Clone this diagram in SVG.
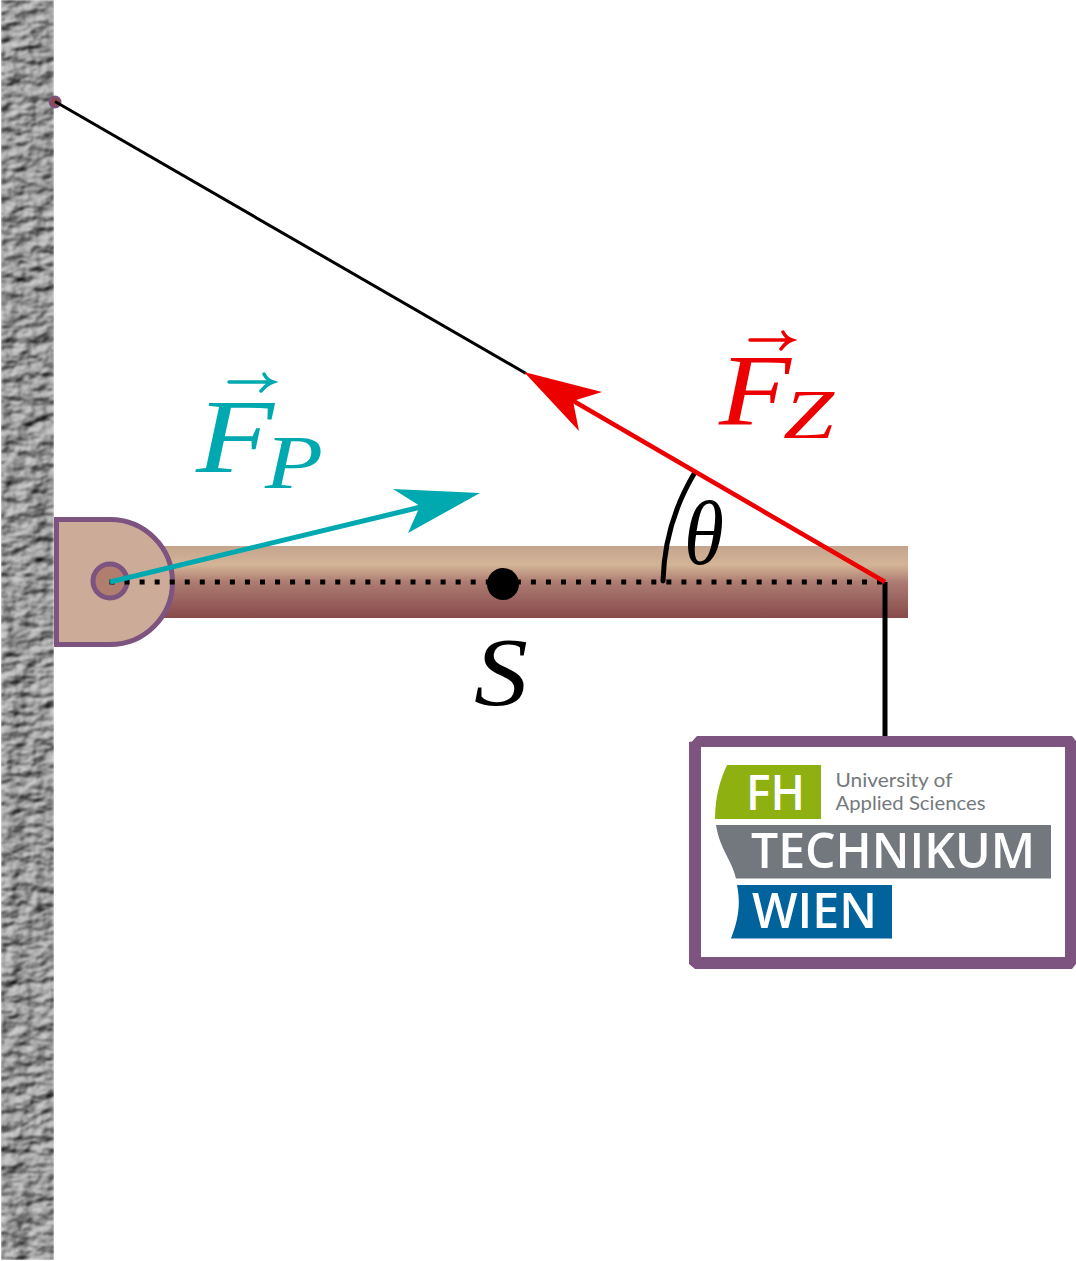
<svg xmlns="http://www.w3.org/2000/svg" width="1076" height="1261" viewBox="0 0 1076 1261">
<style>
.m{font-family:"Liberation Serif","Times New Roman",serif;font-style:italic}
.logo{font-family:"Open Sans","Noto Sans",sans-serif;font-weight:600;fill:#fff}
.sub{font-family:Lato,"Open Sans",sans-serif;fill:#74797d;font-size:19px}
.teal{fill:#00a9b0}.red{fill:#ec0000}
</style>
<defs>
<linearGradient id="bar" x1="0" y1="0" x2="0" y2="1">
<stop offset="0" stop-color="#c4a48e"/><stop offset="0.26" stop-color="#d4b596"/><stop offset="0.5" stop-color="#ad7c72"/><stop offset="1" stop-color="#874a4a"/>
</linearGradient>
<filter id="rock" x="0" y="0" width="1" height="1" color-interpolation-filters="sRGB">
<feTurbulence type="fractalNoise" baseFrequency="0.05 0.1" numOctaves="4" seed="23"/>
<feDiffuseLighting surfaceScale="5" diffuseConstant="1.250" lighting-color="#a6a6a6">
<feDistantLight azimuth="225" elevation="50"/>
</feDiffuseLighting>
<feGaussianBlur stdDeviation="0.8"/>
</filter>
</defs>
<rect width="1076" height="1261" fill="#fff"/>
<g id="wall"><rect x="1" y="0" width="53" height="1260" fill="#8a8a8a" filter="url(#rock)"/></g>
<g id="beam"><rect x="150" y="546" width="758" height="72" fill="url(#bar)"/></g>
<g id="hinge">
<path d="M56.500 519.500H110A62.500 62.500 0 0 1 110 644.500H56.500Z" fill="#ccab98" stroke="#7d5380" stroke-width="5"/>
<circle cx="110" cy="581" r="17" fill="#b07e6f" stroke="#7d5380" stroke-width="5"/>
</g>
<g id="anchor"><circle cx="55" cy="102" r="5.500" fill="#8a4c55" stroke="#7d5380" stroke-width="2"/></g>
<g id="connectors" fill="none">
<line x1="109.500" y1="582" x2="885" y2="582" stroke="#000" stroke-width="5" stroke-dasharray="5 10.050"/>
<line x1="55" y1="101.500" x2="526" y2="373.500" stroke="#000" stroke-width="3"/>
<line x1="885" y1="582" x2="885" y2="738" stroke="#000" stroke-width="5"/>
<path d="M694.500 473A222 222 0 0 0 663 581" stroke="#000" stroke-width="5" stroke-linecap="round"/>
<line x1="110" y1="582" x2="425" y2="506" stroke="#00a9b0" stroke-width="5"/>
<path d="M480 493L393 489L420 506L408 533Z" fill="#00a9b0"/>
<line x1="885" y1="582" x2="570" y2="399" stroke="#ec0000" stroke-width="4.500"/>
<path d="M524 372L602 392L573 401L579 431Z" fill="#ec0000"/>
</g>
<g id="centre-of-mass"><circle cx="503" cy="584" r="16" fill="#000"/>
<text class="m" x="474" y="705" font-size="98" textLength="54" lengthAdjust="spacingAndGlyphs">S</text></g>
<g id="label-theta"><text class="m" x="684" y="564" font-size="90" textLength="40" lengthAdjust="spacingAndGlyphs">θ</text></g>
<g id="label-fz">
<text class="m red" x="719" y="425" font-size="102" textLength="72" lengthAdjust="spacingAndGlyphs">F</text>
<text class="m red" x="783" y="438" font-size="70" textLength="51" lengthAdjust="spacingAndGlyphs">Z</text>
<path d="M750 340H790M783 332Q786 338 792 340Q786 342 781 349" fill="none" stroke="#ec0000" stroke-width="3.500" stroke-linecap="round"/>
</g>
<g id="label-fp">
<text class="m teal" x="196" y="472" font-size="106" textLength="78" lengthAdjust="spacingAndGlyphs">F</text>
<text class="m teal" x="265" y="488" font-size="76" textLength="58" lengthAdjust="spacingAndGlyphs">P</text>
<path d="M229 382H271M264 374Q267 380 273 382Q267 384 261 391" fill="none" stroke="#00a9b0" stroke-width="3.500" stroke-linecap="round"/>
</g>
<g id="weight">
<path d="M692 741.500L697 736H1072L1076 741V964L1072 969H695L689 964V742Z" fill="#7d5380"/>
<rect x="701" y="747" width="364" height="210" fill="#fff"/>
<path d="M727 765H821V819H715C715 797 720 780 727 765Z" fill="#8eb010"/>
<path d="M716 825H1051V878.500H736C731 858 720 850 716 825Z" fill="#72787d"/>
<path d="M737 885H892V938.500H731C738 920 741 905 737 885Z" fill="#00639c"/>
<text class="logo" x="746" y="810" font-size="49" textLength="59" lengthAdjust="spacingAndGlyphs">FH</text>
<text class="logo" x="751" y="868" font-size="48" textLength="284" lengthAdjust="spacingAndGlyphs">TECHNIKUM</text>
<text class="logo" x="752" y="928" font-size="48" textLength="125" lengthAdjust="spacingAndGlyphs">WIEN</text>
<text class="sub" x="835.500" y="787" textLength="117" lengthAdjust="spacingAndGlyphs">University of</text>
<text class="sub" x="835.500" y="810" textLength="150" lengthAdjust="spacingAndGlyphs">Applied Sciences</text>
</g>
</svg>
